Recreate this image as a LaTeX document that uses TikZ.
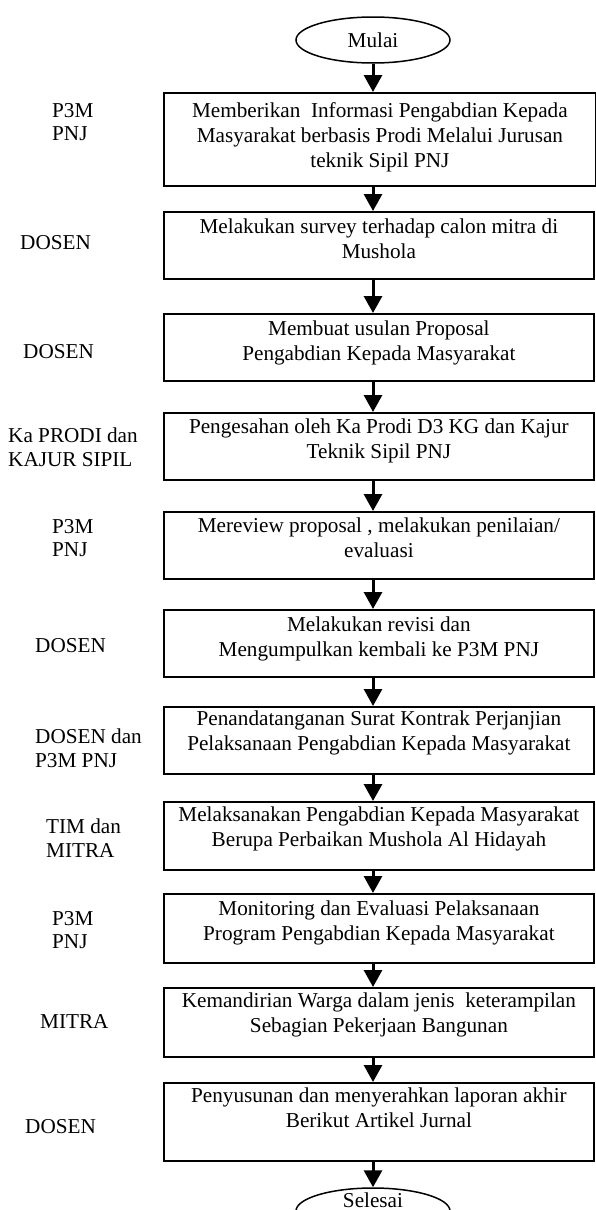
\documentclass[tikz,border=0pt]{standalone}
\usepackage{fontspec}
\setmainfont{Liberation Serif}
\usetikzlibrary{arrows.meta,shapes.geometric}
\begin{document}
\begin{tikzpicture}[x=1pt,y=-1pt,
 stepbox/.style={draw, line width=1.8pt, rectangle, inner sep=0, anchor=north west, minimum width=430pt},
 boxtext/.style={anchor=north, align=center, inner sep=0, font=\fontsize{21.2}{25}\selectfont},
 role/.style={anchor=west, align=left, inner sep=0, font=\fontsize{21.2}{23.5}\selectfont},
 term/.style={draw, ellipse, line width=1.5pt, minimum width=154pt, minimum height=46pt, inner sep=0, font=\fontsize{21.2}{24}\selectfont},
 flow/.style={line width=3pt, -{Triangle[width=18pt,length=17pt]}}]
\useasboundingbox (0,0) rectangle (596,1210);
\clip (0,0) rectangle (596,1210);
\coordinate (ax) at (373,0);

% terminals
\node[term] (start) at (373,40) {Mulai};
\node[term] (end) at (373,1211) {};
\node[inner sep=0, font=\fontsize{21.2}{24}\selectfont] (endtxt) at (373,1200) {Selesai};

% boxes
\node[stepbox, minimum width=432pt, minimum height=93pt] (b1) at (163,92) {};
\node[stepbox, minimum height=67pt] (b2) at (163,211) {};
\node[stepbox, minimum height=67pt] (b3) at (163,313) {};
\node[stepbox, minimum height=67pt] (b4) at (163,412) {};
\node[stepbox, minimum height=67pt] (b5) at (163,511) {};
\node[stepbox, minimum height=67pt] (b6) at (163,609) {};
\node[stepbox, minimum height=67pt] (b7) at (163,706) {};
\node[stepbox, minimum height=68pt] (b8) at (163,801) {};
\node[stepbox, minimum height=69pt] (b9) at (163,893) {};
\node[stepbox, minimum height=69pt] (b10) at (163,987) {};
\node[stepbox, minimum height=78pt] (b11) at (163,1082) {};

% box texts
\node[boxtext] (t1) at ([yshift=-10pt]b1.north) {Memberikan~ Informasi Pengabdian Kepada\\Masyarakat berbasis Prodi Melalui Jurusan\\teknik Sipil PNJ};
\node[boxtext] (t2) at ([yshift=-8pt]b2.north) {Melakukan survey terhadap calon mitra di\\Mushola};
\node[boxtext] (t3) at ([yshift=-8pt]b3.north) {Membuat usulan Proposal\\Pengabdian Kepada Masyarakat};
\node[boxtext] (t4) at ([yshift=-7pt]b4.north) {Pengesahan oleh Ka Prodi D3 KG dan Kajur\\Teknik Sipil PNJ};
\node[boxtext] (t5) at ([yshift=-7pt]b5.north) {Mereview proposal , melakukan penilaian/\\evaluasi};
\node[boxtext] (t6) at ([yshift=-8pt]b6.north) {Melakukan revisi dan\\Mengumpulkan kembali ke P3M PNJ};
\node[boxtext] (t7) at ([yshift=-5pt]b7.north) {Penandatanganan Surat Kontrak Perjanjian\\Pelaksanaan Pengabdian Kepada Masyarakat};
\node[boxtext] (t8) at ([yshift=-6pt]b8.north) {Melaksanakan Pengabdian Kepada Masyarakat\\Berupa Perbaikan Mushola Al Hidayah};
\node[boxtext] (t9) at ([yshift=-8pt]b9.north) {Monitoring dan Evaluasi Pelaksanaan\\Program Pengabdian Kepada Masyarakat};
\node[boxtext] (t10) at ([yshift=-6pt]b10.north) {Kemandirian Warga dalam jenis~ keterampilan\\Sebagian Pekerjaan Bangunan};
\node[boxtext] (t11) at ([yshift=-6pt]b11.north) {Penyusunan dan menyerahkan laporan akhir\\Berikut Artikel Jurnal};

% role labels
\node[role] (r1) at (52,122) {P3M\\PNJ};
\node[role] (r2) at (20,243) {DOSEN};
\node[role] (r3) at (23,352) {DOSEN};
\node[role] (r4) at (8,447) {Ka PRODI dan\\KAJUR SIPIL};
\node[role] (r5) at (52,538) {P3M\\PNJ};
\node[role] (r6) at (35,646) {DOSEN};
\node[role] (r7) at (35,748) {DOSEN dan\\P3M PNJ};
\node[role] (r8) at (46,838) {TIM dan\\MITRA};
\node[role] (r9) at (52,930) {P3M\\PNJ};
\node[role] (r10) at (40,1021) {MITRA};
\node[role] (r11) at (25,1127) {DOSEN};

% connectors
\draw[flow] (start.south -| ax) -- (b1.north -| ax);
\draw[flow] (b1.south -| ax) -- (b2.north -| ax);
\draw[flow] (b2.south -| ax) -- (b3.north -| ax);
\draw[flow] (b3.south -| ax) -- (b4.north -| ax);
\draw[flow] (b4.south -| ax) -- (b5.north -| ax);
\draw[flow] (b5.south -| ax) -- (b6.north -| ax);
\draw[flow] (b6.south -| ax) -- (b7.north -| ax);
\draw[flow] (b7.south -| ax) -- (b8.north -| ax);
\draw[flow] (b8.south -| ax) -- (b9.north -| ax);
\draw[flow] (b9.south -| ax) -- (b10.north -| ax);
\draw[flow] (b10.south -| ax) -- (b11.north -| ax);
\draw[flow] (b11.south -| ax) -- (end.north -| ax);
\end{tikzpicture}
\end{document}
